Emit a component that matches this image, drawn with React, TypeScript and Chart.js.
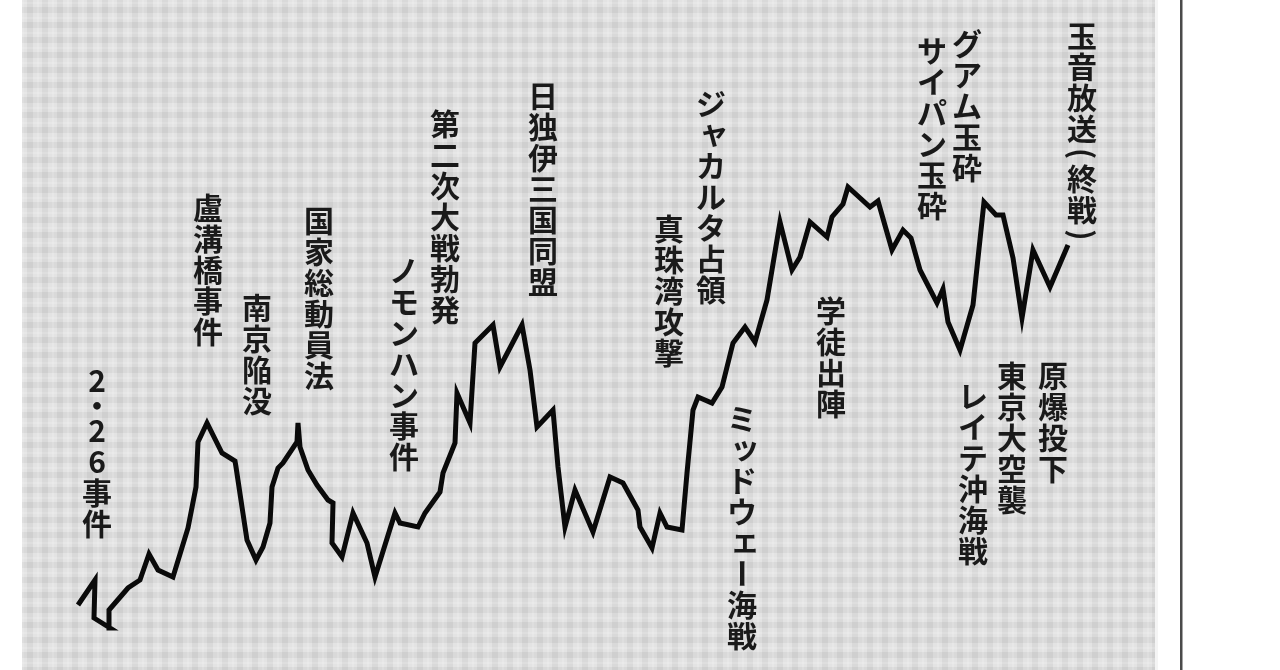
import React, { useEffect, useRef } from "react";
import { Chart, registerables } from "chart.js";

Chart.register(...registerables);

// Timeline position (x) and index level (y)
const timeline = [56, 73, 72, 88, 87, 106, 118, 127, 136, 151, 166, 174, 176, 185, 200, 213, 214, 220, 225, 234, 241, 248, 250, 256, 261, 275, 276, 278, 286, 295, 306, 311, 310, 320, 331, 345, 353, 373, 378, 396, 403, 418, 421, 433, 435, 448, 453, 458, 471, 478, 500, 508, 515, 531, 536, 543, 553, 571, 588, 601, 616, 618, 630, 638, 645, 660, 665, 671, 676, 690, 700, 711, 723, 733, 745, 758, 770, 778, 788, 805, 810, 821, 826, 848, 856, 870, 881, 889, 898, 915, 921, 926, 938, 951, 962, 974, 981, 991, 1000, 1011, 1028, 1046];
const level = [65, 90, 52, 42, 60, 82, 90, 116, 100, 93, 142, 183, 228, 247, 217, 209, 203, 163, 130, 110, 123, 147, 183, 202, 207, 228, 247, 223, 200, 185, 170, 167, 127, 113, 157, 127, 93, 157, 147, 143, 157, 178, 197, 227, 277, 247, 327, 332, 345, 303, 345, 300, 243, 260, 203, 143, 180, 138, 193, 187, 160, 143, 122, 157, 143, 140, 197, 260, 273, 267, 283, 327, 343, 328, 370, 448, 400, 413, 448, 433, 453, 466, 483, 463, 469, 420, 440, 432, 400, 367, 381, 348, 320, 365, 468, 455, 455, 412, 352, 420, 383, 425];

// Event annotations: text, timeline position, level where the column starts
const eventTexts = ["2・26事件", "盧溝橋事件", "南京陥没", "国家総動員法", "ノモンハン事件", "第二次大戦勃発", "日独伊三国同盟", "真珠湾攻撃", "ジャカルタ占領", "ミッドウェー海戦", "学徒出陣", "サイパン玉砕", "グアム玉砕", "レイテ沖海戦", "東京大空襲", "原爆投下", "玉音放送(終戦)"];
const eventX = [75, 186, 235, 297, 382, 423, 521, 647, 689, 720, 809, 910, 945, 951, 990, 1031, 1060];
const eventTop = [305, 478, 378, 465, 415, 562, 590, 457, 582, 267, 375, 635, 642, 290, 310, 310, 650];

const X_MIN = 0;
const X_MAX = 1133;
const Y_MIN = 0;
const Y_MAX = 670;

const ROTATED = new Set(["ー", "(", ")"]);
const HALF = new Set(["(", ")", "・"]);
const SMALL = new Set(["ャ", "ッ", "ェ", "ュ", "ョ", "ィ", "ァ"]);

const FONT_SIZE = 30;
const PITCH = 31;

const backgroundPlugin = {
  id: "plaidBackground",
  beforeDraw(chart: any) {
    const { ctx, chartArea, width, height } = chart;
    ctx.save();
    ctx.fillStyle = "#ffffff";
    ctx.fillRect(0, 0, width, height);
    const { left, right, top, bottom } = chartArea;
    ctx.fillStyle = "#e3e3e3";
    ctx.fillRect(left, top, right - left, bottom - top);
    ctx.fillStyle = "rgba(0,0,0,0.045)";
    for (let y = top + 7; y < bottom; y += 15) {
      ctx.fillRect(left, y, right - left, 6);
    }
    for (let x = left + 5; x < right; x += 15) {
      ctx.fillRect(x, top, 6, bottom - top);
    }
    ctx.fillStyle = "rgba(255,255,255,0.14)";
    for (let y = top + 2; y < bottom; y += 15) {
      ctx.fillRect(left, y, right - left, 2);
    }
    for (let x = left; x < right; x += 15) {
      ctx.fillRect(x, top, 2, bottom - top);
    }
    ctx.fillStyle = "#4a4a4a";
    ctx.fillRect(right + 25, 0, 2.5, height);
    ctx.restore();
  },
};

const labelPlugin = {
  id: "verticalLabels",
  afterDatasetsDraw(chart: any) {
    const { ctx, scales } = chart;
    ctx.save();
    ctx.fillStyle = "#1a1a1a";
    ctx.font = `bold ${FONT_SIZE}px "Noto Sans CJK JP", "Noto Sans", sans-serif`;
    ctx.textAlign = "center";
    ctx.textBaseline = "middle";
    eventTexts.forEach((text, i) => {
      const cx = scales.x.getPixelForValue(eventX[i]);
      let y = scales.y.getPixelForValue(eventTop[i]);
      for (const ch of Array.from(text)) {
        const h = HALF.has(ch) ? PITCH * 0.62 : PITCH;
        const cy = y + h / 2;
        if (ROTATED.has(ch)) {
          ctx.save();
          ctx.translate(cx, cy);
          ctx.rotate(Math.PI / 2);
          ctx.fillText(ch, 0, 0);
          ctx.restore();
        } else if (SMALL.has(ch)) {
          ctx.fillText(ch, cx + 3, cy - 3);
        } else {
          ctx.fillText(ch, cx, cy);
        }
        y += h;
      }
    });
    ctx.restore();
  },
};

export default function App() {
  const canvasRef = useRef<HTMLCanvasElement | null>(null);

  useEffect(() => {
    document.body.style.margin = "0";
    const canvas = canvasRef.current;
    if (!canvas) return;
    const points = timeline.map((x, i) => ({ x, y: level[i] }));
    const chart = new Chart(canvas, {
      type: "scatter",
      data: {
        datasets: [
          {
            data: points,
            showLine: true,
            borderColor: "#0a0a0a",
            borderWidth: 5,
            pointRadius: 0,
            tension: 0,
            borderJoinStyle: "miter",
            borderCapStyle: "butt",
          } as any,
        ],
      },
      options: {
        animation: false,
        responsive: true,
        maintainAspectRatio: false,
        devicePixelRatio: 1,
        layout: { padding: { left: 22, right: 125, top: 0, bottom: 0 } },
        plugins: { legend: { display: false }, tooltip: { enabled: false } },
        scales: {
          x: { type: "linear", min: X_MIN, max: X_MAX, display: false },
          y: { type: "linear", min: Y_MIN, max: Y_MAX, display: false },
        },
      },
      plugins: [backgroundPlugin, labelPlugin],
    });
    return () => chart.destroy();
  }, []);

  return (
    <div style={{ width: 1280, height: 670, position: "relative" }}>
      <canvas ref={canvasRef} />
    </div>
  );
}
